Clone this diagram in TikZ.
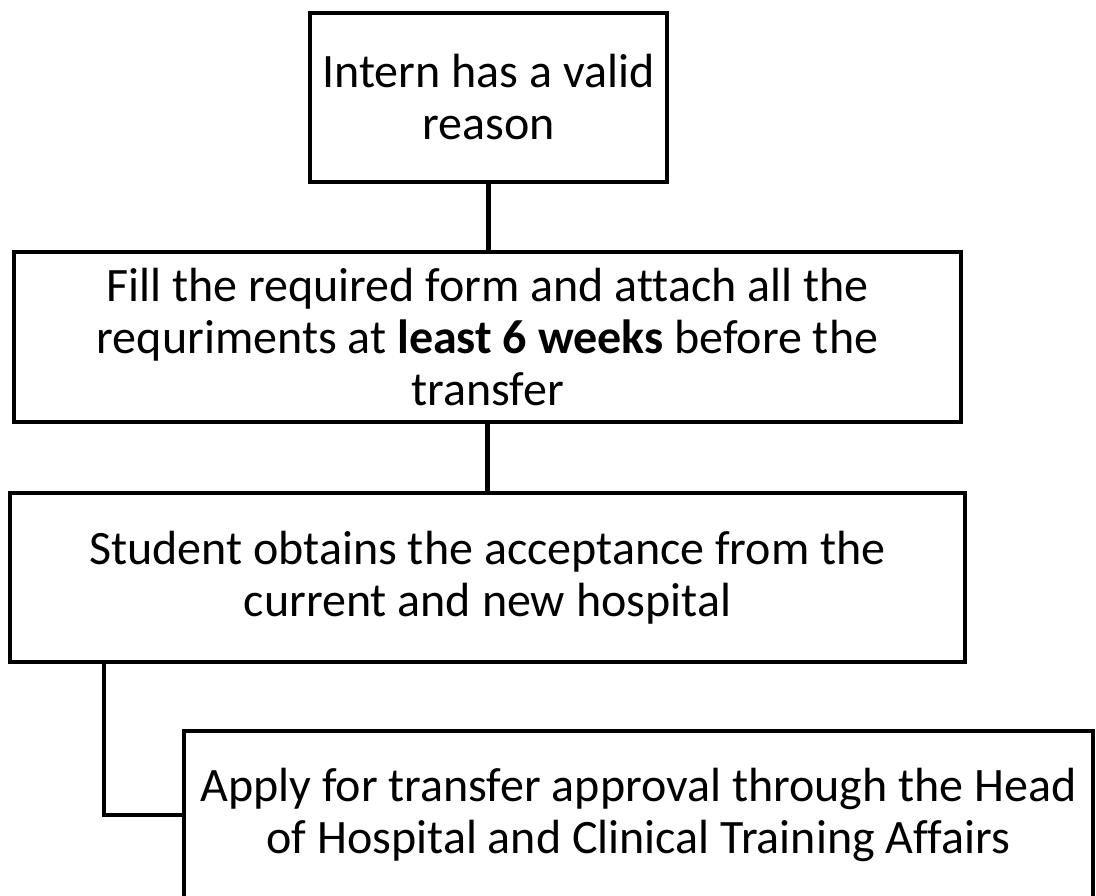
\documentclass[tikz,border=0pt]{standalone}
\usepackage{fontspec}
\setmainfont[Ligatures=NoCommon]{Carlito}
\begin{document}
\begin{tikzpicture}
[x=0.5pt, y=-0.5pt,
every node/.style={draw, line width=2.25pt, align=center, inner sep=0pt,
  font=\fontsize{24}{26}\selectfont},
link/.style={line width=2.25pt}
]
\useasboundingbox (0,0) rectangle (1096,895);
\node[minimum width=178.5pt, minimum height=84.5pt] (reason) at (488.5,97.5)
  {Intern has a valid\\reason};
\node[minimum width=473.5pt, minimum height=85pt] (form) at (487.5,337)
  {Fill the required form and attach all the\\requriments at \textbf{least 6 weeks} before the\\transfer};
\node[minimum width=477.5pt, minimum height=84.5pt] (accept) at (487.5,577.5)
  {Student obtains the acceptance from the\\current and new hospital};
\node[minimum width=454.5pt, minimum height=84pt] (approve) at (638.5,815)
  {Apply for transfer approval through the Head\\of Hospital and Clinical Training Affairs};
\draw[link] (reason.south) -- (reason.south |- form.north);
\draw[link] (form.south) -- (form.south |- accept.north);
\draw[link] ([xshift=48pt]accept.south west) |- (approve.west);
\end{tikzpicture}
\end{document}
